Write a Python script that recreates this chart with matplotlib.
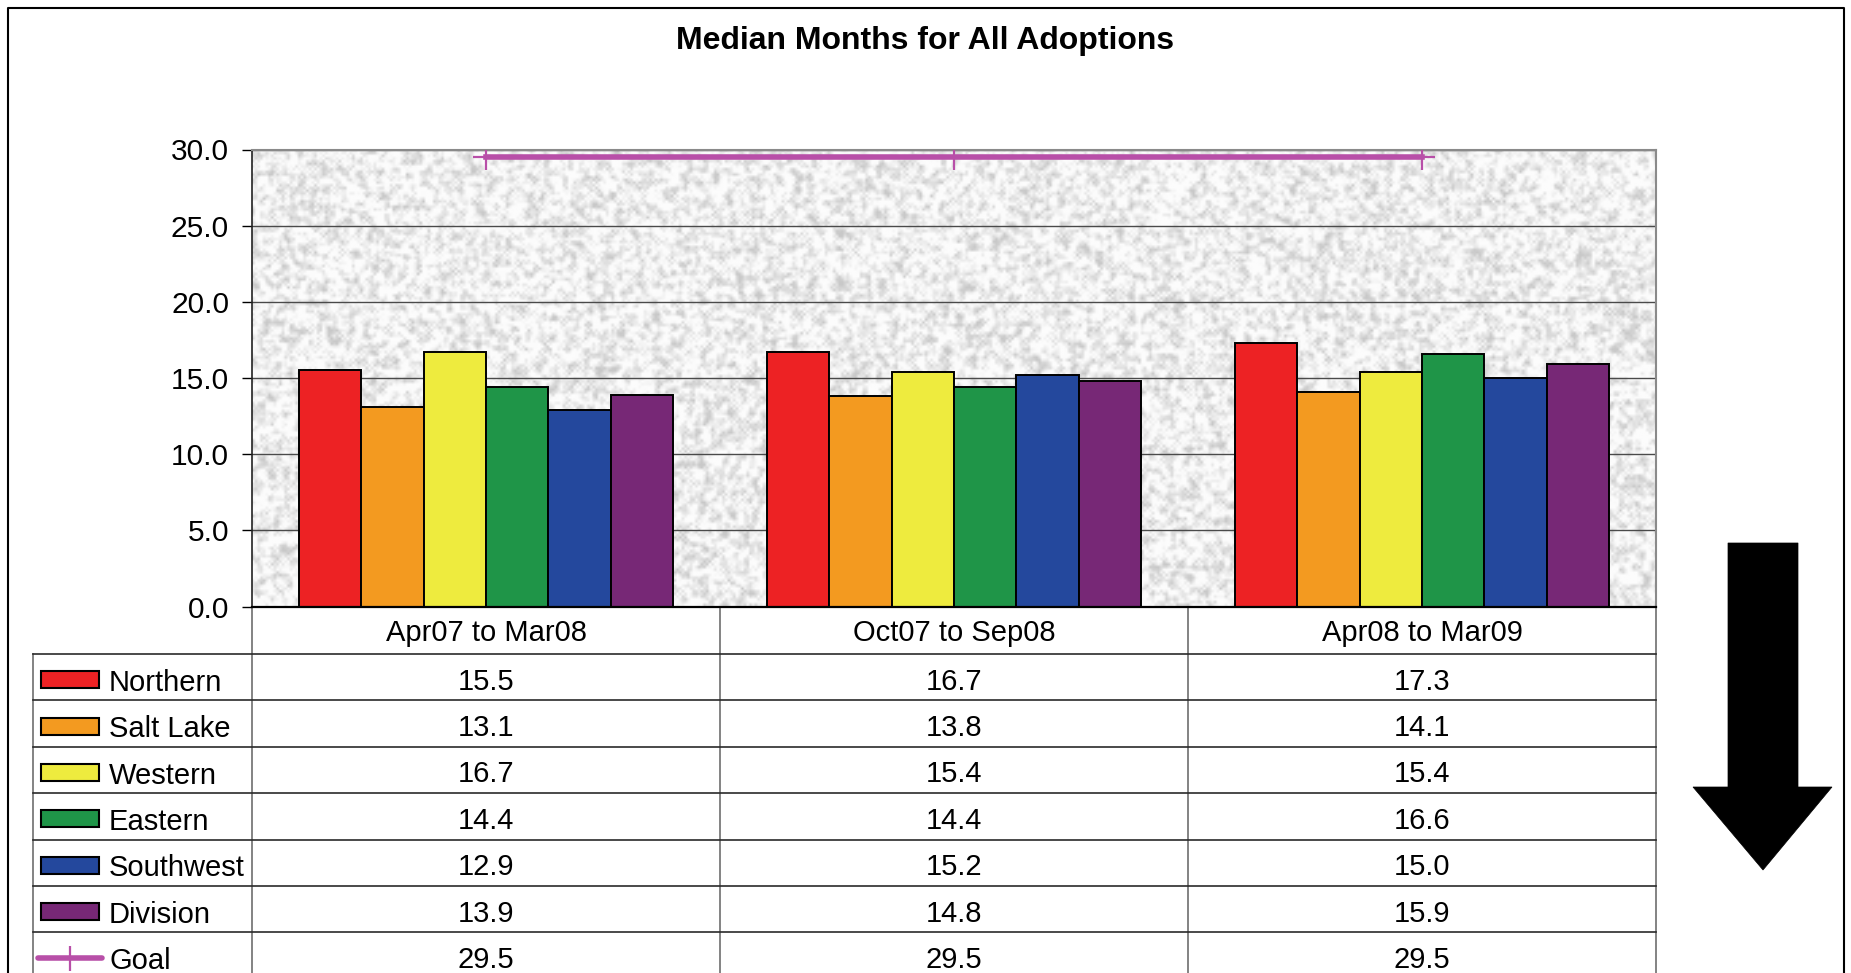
import numpy as np
import matplotlib
matplotlib.use("Agg")
from matplotlib import pyplot as plt
from matplotlib import patches as ptch

plt.rcParams["font.family"] = ["Liberation Sans", "DejaVu Sans"]

# data
periods = ["Apr07 to Mar08", "Oct07 to Sep08", "Apr08 to Mar09"]
regions = ["Northern", "Salt Lake", "Western", "Eastern", "Southwest", "Division"]
northern = [15.5, 16.7, 17.3]
salt_lake = [13.1, 13.8, 14.1]
western = [16.7, 15.4, 15.4]
eastern = [14.4, 14.4, 16.6]
southwest = [12.9, 15.2, 15.0]
division = [13.9, 14.8, 15.9]
goal = [29.5, 29.5, 29.5]
yticks = [0, 5, 10, 15, 20, 25, 30]

series = [northern, salt_lake, western, eastern, southwest, division]
bar_colors = ["#ED2224", "#F39A20", "#EEEB3E", "#1F9548", "#24489D", "#772876"]
goal_color = "#B84FA8"

W, H = 1851, 973
fig = plt.figure(figsize=(W / 100, H / 100), dpi=100)

# layout in pixels, measured from top-left
px_l, px_r, px_t, px_b = 252, 1656, 149.5, 606.5
col_w = (px_r - px_l) / len(periods)
leg_l = 33
head_bot = 654
row_h = 46.4

# overlay for frame, table and arrow
ov = fig.add_axes([0, 0, 1, 1])
ov.set_xlim(0, W)
ov.set_ylim(H, 0)
ov.axis("off")

ov.plot([8, 8, 1844, 1844], [H + 5, 8, 8, H + 5], color="black", lw=1.5, clip_on=False)
fig.text(925 / W, 1 - 40.5 / H, "Median Months for All Adoptions", ha="center", va="center",
         fontsize=23, fontweight="bold")

# table grid
for k in range(len(periods) + 1):
    ov.plot([px_l + k * col_w] * 2, [px_b, H + 5], color="#7a7a7a", lw=1.3)
ov.plot([leg_l, leg_l], [head_bot, H + 5], color="#7a7a7a", lw=1.3)
rows = regions + ["Goal"]
for j in range(len(rows)):
    y = head_bot + j * row_h
    ov.plot([leg_l, px_r], [y, y], color="#2a2a2a", lw=1.2)

for k, p in enumerate(periods):
    ov.text(px_l + (k + 0.5) * col_w, (px_b + head_bot) / 2 + 3, p, ha="center", va="center",
            fontsize=21)

table_vals = series + [goal]
for j, (name, vals) in enumerate(zip(rows, table_vals)):
    yc = head_bot + (j + 0.5) * row_h + 4.5
    for k, v in enumerate(vals):
        ov.text(px_l + (k + 0.5) * col_w, yc, f"{v:.1f}", ha="center", va="center", fontsize=21)
    ov.text(109, yc + 1, name, ha="left", va="center", fontsize=21)
    ys = yc - 2
    if j < len(regions):
        ov.add_patch(ptch.Rectangle((41, ys - 8.5), 58, 17, facecolor=bar_colors[j],
                                    edgecolor="black", lw=1.5))
    else:
        ov.plot([38, 102], [ys, ys], color=goal_color, lw=4, solid_capstyle="round")
        ov.plot([70], [ys], color=goal_color, marker="+", ms=18, mew=1.6)

# arrow
ov.add_patch(ptch.Polygon([(1728, 543), (1798, 543), (1798, 787), (1832, 787), (1763, 870),
                           (1693, 787), (1728, 787)], closed=True, facecolor="black",
                          edgecolor="black", lw=0.5))

# chart
ax = fig.add_axes([px_l / W, 1 - px_b / H, (px_r - px_l) / W, (px_b - px_t) / H])
x = np.arange(len(periods))

# granite-like plot area fill
rng = np.random.default_rng(11)
noise = rng.random((170, 520))
sm = noise.copy()
for dy, dx in [(0, 1), (1, 0), (0, -1), (-1, 0)]:
    sm += np.roll(np.roll(noise, dy, 0), dx, 1)
sm /= 5
sm = (sm - sm.min()) / (sm.max() - sm.min())
tex = 0.985 - 0.2 * np.clip((sm - 0.4) / 0.4, 0, 1)
ax.imshow(tex, cmap="gray", vmin=0, vmax=1, extent=(-0.5, 2.5, 0, 30), aspect="auto",
          zorder=0, interpolation="bilinear")

ax.set_axisbelow(True)
ax.yaxis.grid(True, color="#4a4a4a", lw=1.0)

bw = 1 / 7.5
for i, vals in enumerate(series):
    ax.bar(x + (i - 2.5) * bw, vals, bw, color=bar_colors[i], edgecolor="black", lw=1.4,
           zorder=2)

ax.plot(x, goal, color=goal_color, lw=4, marker="+", ms=19, mew=1.6, zorder=3)

ax.set_xlim(-0.5, 2.5)
ax.set_ylim(0, 30)
ax.set_yticks(yticks)
ax.set_yticklabels([f"{v:.1f}" for v in yticks])
ax.set_xticks([])
ax.tick_params(axis="y", direction="out", length=7.5, width=1.0, labelsize=21.5, pad=9)
for s in ["top", "right"]:
    ax.spines[s].set_color("#8a8a8a")
    ax.spines[s].set_linewidth(1.5)
ax.spines["left"].set_color("#222222")
ax.spines["left"].set_linewidth(1.2)
ax.spines["bottom"].set_color("black")
ax.spines["bottom"].set_linewidth(1.6)

fig.savefig("out.png", dpi=100)
